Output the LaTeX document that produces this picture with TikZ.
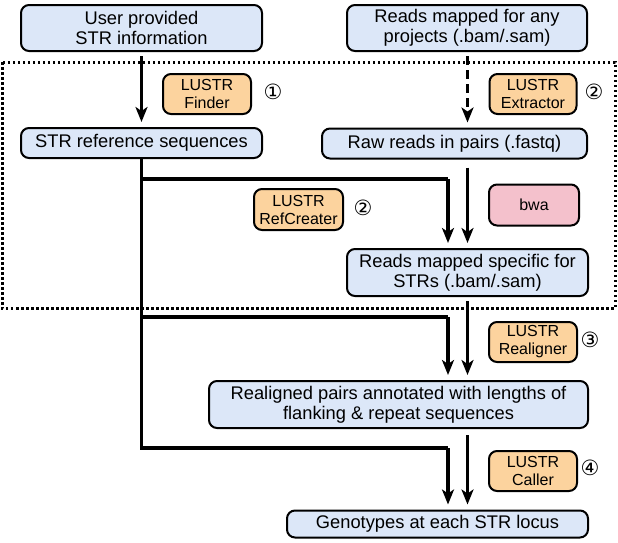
\documentclass[tikz,border=0pt]{standalone}
\usepackage{fontspec}
\setmainfont{Liberation Sans}
\newfontfamily\circfont{DejaVu Sans}
\usepackage{tikz}
\usetikzlibrary{positioning,arrows.meta}

\definecolor{boxblue}{RGB}{220,231,248}
\definecolor{tooloran}{RGB}{252,211,158}
\definecolor{bwapink}{RGB}{244,193,204}

\begin{document}
\begin{tikzpicture}[x=1pt, y=-1pt,
		box/.style={draw, line width=2pt, rounded corners=8pt, fill=boxblue, align=center, inner sep=0pt, font=\fontsize{18.3}{20}\selectfont},
		tool/.style={box, fill=tooloran, font=\fontsize{16}{18}\selectfont},
		num/.style={font=\circfont\fontsize{21}{21}\selectfont, inner sep=0pt},
		arr/.style={-{Stealth[length=15pt, width=12pt, inset=4pt]}, line width=3.2pt, shorten >=5pt},
		link/.style={line width=3.2pt}]
		\useasboundingbox (0,0) rectangle (618,542);
		\draw[line width=3pt, dash pattern=on 2.5pt off 2.5pt] (2,62) rectangle (615,308);
		\node[box, minimum width=241pt, minimum height=46pt] (user) at (141.5, 28) {User provided\\STR information};
		\node[box, minimum width=240pt, minimum height=46pt] (reads) at (467, 28) {Reads mapped for any\\projects (.bam/.sam)};
		\node[tool, minimum width=88pt, minimum height=40pt] (finder) at (207, 94) {LUSTR\\Finder};
		\node[num] (n1) at (273, 92) {①};
		\node[box, minimum width=241pt, minimum height=30pt] (strref) at (141.5, 143) {STR reference sequences};
		\node[tool, minimum width=87pt, minimum height=40pt] (extractor) at (533, 94) {LUSTR\\Extractor};
		\node[num] (n2a) at (594, 92) {②};
		\node[box, minimum width=265pt, minimum height=30pt] (raw) at (454.5, 143.5) {Raw reads in pairs (.fastq)};
		\node[tool, minimum width=89pt, minimum height=41pt] (refcreater) at (298.5, 209.5) {LUSTR\\RefCreater};
		\node[num] (n2b) at (363, 208) {②};
		\node[tool, fill=bwapink, minimum width=90pt, minimum height=41pt] (bwa) at (534, 205) {bwa};
		\node[box, minimum width=241pt, minimum height=47pt] (specific) at (467.5, 272.5) {Reads mapped specific for\\STRs (.bam/.sam)};
		\node[tool, minimum width=88pt, minimum height=40pt] (realigner) at (533, 342) {LUSTR\\Realigner};
		\node[num] (n3) at (590, 340) {③};
		\node[box, minimum width=379pt, minimum height=47pt] (realigned) at (398.5, 404.5) {Realigned pairs annotated with lengths of\\flanking \& repeat sequences};
		\node[tool, minimum width=88pt, minimum height=40pt] (caller) at (533, 471) {LUSTR\\Caller};
		\node[num] (n4) at (590, 468) {④};
		\node[box, minimum width=301pt, minimum height=27pt] (genotypes) at (437.5, 524) {Genotypes at each STR locus};
		% junctions of the reference line
		\coordinate (j1) at (448, 179);
		\coordinate (j2) at (448, 317);
		\coordinate (j3) at (448, 448);
		\draw[arr, shorten <=4pt] (user) -- (strref);
		\draw[arr, dashed, dash pattern=on 9pt off 5pt, shorten <=4pt] (reads.south -| specific) -- (raw.north -| specific);
		\draw[arr, shorten <=8pt] (raw.south -| specific) -- (specific);
		\draw[arr, shorten <=4pt] (specific) -- (realigned.north -| specific);
		\draw[arr, shorten <=6pt] (realigned.south -| specific) -- (genotypes.north -| specific);
		\draw[link, shorten <=1pt] (strref) |- (j1);
		\draw[arr] (j1) -- (j1 |- specific.north);
		\draw[link] (strref) |- (j2);
		\draw[arr] (j2) -- (j2 |- realigned.north);
		\draw[link, line join=miter] (strref) |- (j3);
		\draw[arr] (j3) -- (j3 |- genotypes.north);
	\end{tikzpicture}
\end{document}
